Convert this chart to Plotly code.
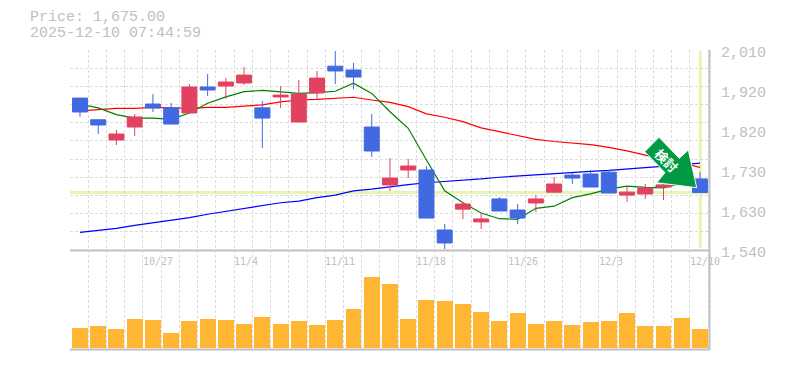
import plotly.graph_objects as go

dates = ["10/21","10/22","10/23","10/24","10/27","10/28","10/29","10/30","10/31","11/4",
         "11/5","11/6","11/7","11/10","11/11","11/12","11/13","11/14","11/17","11/18",
         "11/19","11/20","11/21","11/25","11/26","11/27","11/28","12/1","12/2","12/3",
         "12/4","12/5","12/8","12/9","12/10"]
opens = [1897,1846,1798.5,1829,1883,1874,1862,1923,1925.4,1932.5,1874,1899.6,1840.8,1909,1972,1963,1829,1692.8,
         1728,1728,1587,1636,1606,1660,1634,1650.5,1676,1716,1718.6,1723,1669,1671.6,1688,1699,1707]
highs = [1897,1846,1822,1859.6,1906.6,1885.5,1930,1953.6,1944,1970,1890,1925,1939.5,1960.7,2007.6,1979.5,1859.6,1756,
         1754,1737,1601,1652.8,1624.6,1664.5,1648,1669,1711.6,1721,1728,1728,1690,1695,1695,1725,1723]
lows = [1853,1812.6,1786.8,1807.9,1864.3,1836,1862,1902,1894.9,1927.8,1779.7,1873.7,1840.8,1892.5,1930,1918,1758.5,1678.6,
        1709,1615,1542,1613,1589,1631.6,1601,1629,1676,1695,1688,1674,1653,1660,1657.5,1694,1675]
closes = [1864.3,1833.8,1812.6,1852.6,1873.7,1836,1923,1916,1934.8,1951,1850,1904,1906.6,1944,1960.7,1946.5,1772.6,1709,
          1737.4,1615,1556.5,1648,1613,1631.6,1615,1660,1695,1709,1688,1674,1676,1685.7,1693,1712,1675]
ma_short = [1883,1874,1858,1850,1850,1847,1862,1885,1900,1912,1915,1911,1908,1910,1913,1932,1908,1865,1826,1751.5,
            1679,1651,1627,1613.5,1612,1638,1643,1663,1672,1683,1690,1687,1686,1697,1697]
ma_mid = [1867,1870,1873,1873,1875,1874,1873,1875,1875,1878,1881,1888,1892.5,1894,1896.5,1899,1892.5,1887,1877,1860,
          1852,1841.5,1827,1818,1808,1800,1795,1791.5,1787.5,1781,1773,1763,1754,1744.5,1734]
ma_long = [1581.6,1586,1591,1598,1603.5,1609,1616,1624,1631,1638,1644,1651,1655,1663,1669,1679,1683,1689,1693.5,1698,
           1700.5,1704,1707,1711,1714,1717,1720,1722,1725,1727,1730,1733,1736,1740,1744]
volumes = [200,220,190,290,280,150,270,290,280,240,310,240,270,230,280,390,710,640,
           290,480,470,440,360,270,350,240,270,230,260,270,350,220,220,300,190]
y_tick_values = [2010,1916,1822,1728,1634,1540]
y_tick_labels = ["2,010","1,920","1,820","1,730","1,630","1,540"]
x_tick_dates = ["10/27","11/4","11/11","11/18","11/26","12/3","12/10"]
last_price = 1675
header_lines = ["Price: 1,675.00", "2025-12-10 07:44:59"]
arrow_label = "検討"

W, H = 785, 370
idx = list(range(len(dates)))
GRAY = "#c0c0c0"
GRID = "#dcdcdc"
RED = "#e2425f"
BLUE = "#4169e1"
MONO = "Liberation Mono"
X_LEFT = -0.548

PLOT_L, PLOT_R, PLOT_T, PLOT_B = 70, 710, 50, 350
pxp = lambda v: (v - PLOT_L) / (PLOT_R - PLOT_L)
pyp = lambda v: (PLOT_B - v) / (PLOT_B - PLOT_T)

fig = go.Figure()
fig.add_trace(go.Scatter(x=idx, y=ma_long, mode="lines", line=dict(color="#0000ff", width=1.2), zorder=1, hoverinfo="skip"))
fig.add_trace(go.Scatter(x=idx, y=ma_mid, mode="lines", line=dict(color="#ff0000", width=1.2), zorder=1, hoverinfo="skip"))
fig.add_trace(go.Scatter(x=idx, y=ma_short, mode="lines", line=dict(color="#008000", width=1.2), zorder=1, hoverinfo="skip"))
fig.add_trace(go.Candlestick(
    x=idx, open=opens, high=highs, low=lows, close=closes, zorder=2, whiskerwidth=0,
    increasing=dict(line=dict(color=RED, width=1), fillcolor=RED),
    decreasing=dict(line=dict(color=BLUE, width=1), fillcolor=BLUE),
    customdata=dates,
))
fig.add_trace(go.Bar(x=idx, y=volumes, xaxis="x2", yaxis="y2", width=0.875,
                     marker=dict(color="#ffb733", line=dict(width=0)), hoverinfo="y"))

grid_axis = dict(
    range=[X_LEFT, 34.55], tick0=X_LEFT, dtick=1, tickmode="linear", showgrid=True,
    gridcolor=GRID, gridwidth=1, griddash="3px,2px", zeroline=False, showticklabels=False,
    ticks="", showline=False, fixedrange=True,
)
annotations = []
for v, t in zip(y_tick_values, y_tick_labels):
    annotations.append(dict(x=1, xref="paper", y=v, yref="y", text=t, showarrow=False, xanchor="left",
                            xshift=9, yshift=-3, font=dict(family=MONO, size=15, color=GRAY)))
for d in x_tick_dates:
    annotations.append(dict(x=dates.index(d) + X_LEFT, xref="x", y=pyp(261), yref="paper", text=d, showarrow=False,
                            xanchor="left", yanchor="middle", xshift=-2,
                            font=dict(family="DejaVu Sans Mono", size=10, color=GRAY)))
for line, yy in zip(header_lines, [18, 33]):
    annotations.append(dict(x=pxp(30), xref="paper", y=pyp(yy), yref="paper", text=line, showarrow=False,
                            xanchor="left", yanchor="middle", xshift=-2,
                            font=dict(family=MONO, size=15, color=GRAY)))
annotations.append(dict(x=pxp(667), xref="paper", y=pyp(160), yref="paper", text="<b>" + arrow_label + "</b>",
                        showarrow=False, textangle=45, xanchor="center", yanchor="middle",
                        font=dict(family="Noto Sans CJK JP", size=13, color="#ffffff")))

sign = [(659, 137.3), (644.7, 151.7), (665, 172.7), (656.7, 182.7), (696.7, 187.7), (688.3, 150), (679.3, 158.3)]
sign_path = "M " + " L ".join(f"{pxp(a):.5f} {pyp(b):.5f}" for a, b in sign) + " Z"

frame = dict(color=GRAY, width=2)
fig.update_layout(
    width=W, height=H, autosize=False, showlegend=False, paper_bgcolor="#ffffff", plot_bgcolor="#ffffff",
    margin=dict(l=70, r=75, t=50, b=20, pad=0), boxgap=0.18, boxgroupgap=0, bargap=0,
    xaxis=dict(**grid_axis, anchor="y", rangeslider=dict(visible=False)),
    xaxis2=dict(**grid_axis, anchor="y2"),
    yaxis=dict(domain=[1/3, 1], range=[1540, 2010], tick0=1540, dtick=470/11, tickmode="linear", showgrid=True,
               gridcolor=GRID, gridwidth=1, griddash="3px,2px", zeroline=False, showticklabels=False,
               side="right", ticks="", fixedrange=True),
    yaxis2=dict(domain=[0, 1/3], range=[-20, 980], showgrid=False, zeroline=False, showticklabels=False,
                side="right", ticks="", fixedrange=True, anchor="x2"),
    annotations=annotations,
    shapes=[
        dict(type="line", xref="paper", x0=0, x1=1, yref="y", y0=last_price, y1=last_price,
             line=dict(color="#e6f5b0", width=3), layer="below"),
        dict(type="line", xref="x", x0=34.02, x1=34.02, yref="y", y0=1544.7, y1=2008,
             line=dict(color="#e6f5b0", width=3), layer="below"),
        dict(type="line", xref="paper", yref="paper", x0=0, x1=1, y0=pyp(250.5), y1=pyp(250.5), line=frame, layer="above"),
        dict(type="line", xref="paper", yref="paper", x0=0, x1=1, y0=pyp(349.5), y1=pyp(349.5), line=frame, layer="above"),
        dict(type="line", xref="paper", yref="paper", x0=pxp(709.5), x1=pxp(709.5), y0=pyp(50), y1=pyp(350), line=frame, layer="above"),
        dict(type="path", xref="paper", yref="paper", path=sign_path, fillcolor="#009944",
             line=dict(color="#f4fbf6", width=1), layer="above"),
    ],
)
fig.write_html("out.html", config=dict(displayModeBar=False),
               post_script="document.body.style.margin='0';document.documentElement.style.overflow='hidden';")
